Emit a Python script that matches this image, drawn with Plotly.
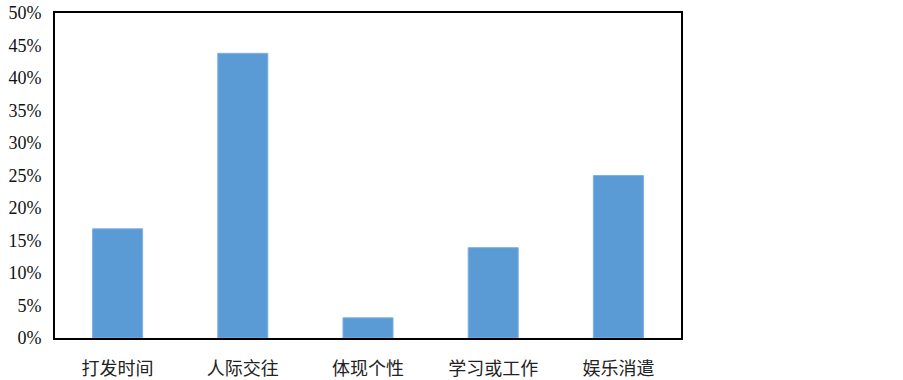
import plotly.graph_objects as go

categories = ["打发时间", "人际交往", "体现个性", "学习或工作", "娱乐消遣"]
values = [0.168, 0.438, 0.031, 0.139, 0.250]
tick_vals = [0, 0.05, 0.10, 0.15, 0.20, 0.25, 0.30, 0.35, 0.40, 0.45, 0.50]
tick_text = ["0%", "5%", "10%", "15%", "20%", "25%", "30%", "35%", "40%", "45%", "50%"]

fig = go.Figure(go.Bar(
    x=categories, y=values,
    marker=dict(color="#5B9BD5", line=dict(color="#7FB2E3", width=1)),
    hoverinfo="skip",
))

fig.update_layout(
    width=903, height=380,
    margin=dict(l=55, r=222, t=13, b=42),
    paper_bgcolor="white", plot_bgcolor="white",
    bargap=0.6,
    showlegend=False,
    font=dict(family="Liberation Serif, Times New Roman, serif", size=19, color="#111"),
)
fig.update_xaxes(
    automargin=False,
    showline=True, linecolor="black", linewidth=2, mirror=True,
    showgrid=False, ticks="",
    tickfont=dict(family="Noto Sans CJK SC", size=18, color="#222"),
    ticklabelstandoff=13,
)
fig.update_yaxes(
    automargin=False,
    range=[0, 0.5], tickvals=tick_vals, ticktext=tick_text,
    showline=True, linecolor="black", linewidth=2, mirror=True,
    showgrid=False, zeroline=False, ticks="",
    tickfont=dict(family="Liberation Serif", size=18, color="#111"),
    ticklabelstandoff=8,
)

fig.write_html(
    "out.html",
    config={"displayModeBar": False, "staticPlot": True},
    post_script="document.body.style.margin='0';document.body.style.overflow='hidden';",
)
